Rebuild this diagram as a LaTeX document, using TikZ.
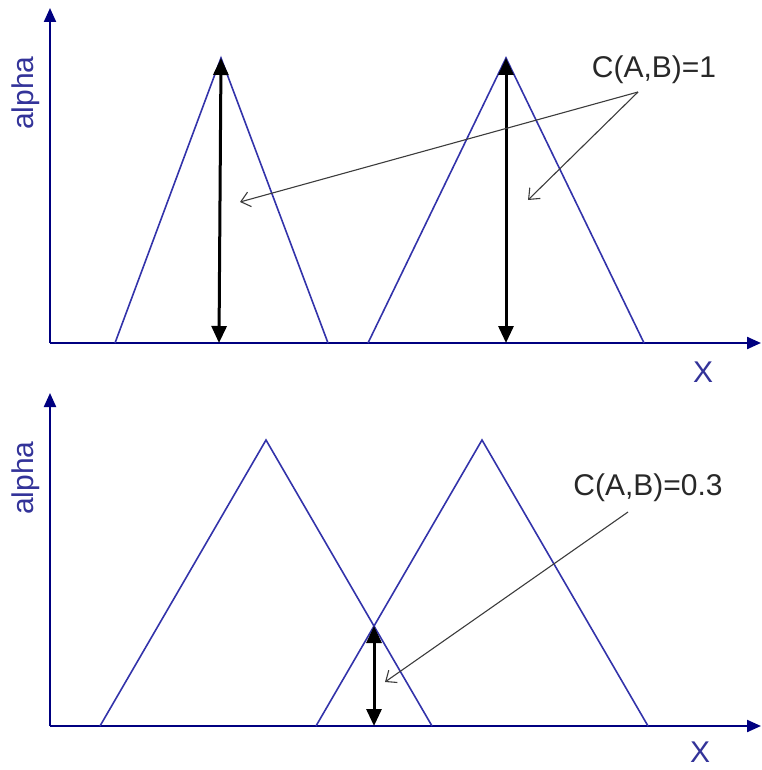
\documentclass[tikz,border=0pt]{standalone}
\usepackage{fontspec}
\setmainfont{Liberation Sans}
\usetikzlibrary{arrows.meta}
\definecolor{axiscol}{RGB}{0,0,128}
\definecolor{tricol}{RGB}{51,51,170}
\definecolor{axlabel}{RGB}{51,51,153}
\definecolor{txtcol}{RGB}{40,40,40}
\definecolor{ptrcol}{RGB}{60,60,60}
\tikzset{
  axisline/.style={draw=axiscol, line width=2.2pt, -{Triangle[length=14pt,width=12pt]}},
  triline/.style={draw=tricol, line width=1.6pt, line join=miter},
  dblarrow/.style={draw=black, line width=3pt, {Triangle[length=17pt,width=15pt]}-{Triangle[length=17pt,width=15pt]}},
  ptr/.style={draw=ptrcol, line width=1.1pt, -{Straight Barb[length=9pt,width=15pt]}},
  axtext/.style={text=axlabel, font=\fontsize{30}{31}\selectfont, inner sep=0pt},
  ctext/.style={text=txtcol, font=\fontsize{30}{31}\selectfont, inner sep=0pt},
}
\begin{document}
\begin{tikzpicture}[x=1pt,y=-1pt]
\useasboundingbox (0,0) rectangle (761,770);
% ---------- top panel ----------
\coordinate (o1) at (50,343);
\coordinate (y1) at (50,8);
\coordinate (x1) at (761,343);
\draw[axisline] (o1) -- (y1);
\draw[axisline] (o1) -- (x1);
\node[axtext, rotate=90] (alpha1) at (26,93) {alpha};
\node[axtext] (X1) at (703,372) {X};
\coordinate (a1) at (115,343);
\coordinate (b1) at (221,58);
\coordinate (c1) at (328,343);
\coordinate (a2) at (368,343);
\coordinate (b2) at (506,58);
\coordinate (c2) at (644,343);
\draw[triline] (a1) -- (b1) -- (c1);
\draw[triline] (a2) -- (b2) -- (c2);
\coordinate (d1) at (219,343);
\coordinate (d2) at (506,343);
\draw[dblarrow] (b1) -- (d1);
\draw[dblarrow] (b2) -- (d2);
\node[ctext] (lab1) at (654,70) {C(A,B)=1};
\coordinate (p1) at (638,92);
\coordinate (t1) at (240,202);
\coordinate (t2) at (528,200);
\draw[ptr] (p1) -- (t1);
\draw[ptr] (p1) -- (t2);
% ---------- bottom panel ----------
\coordinate (o2) at (50,726);
\coordinate (y2) at (50,393);
\coordinate (x2) at (761,726);
\draw[axisline] (o2) -- (y2);
\draw[axisline] (o2) -- (x2);
\node[axtext, rotate=90] (alpha2) at (26,478) {alpha};
\node[axtext] (X2) at (700,752) {X};
\coordinate (e1) at (100,726);
\coordinate (f1) at (266,440);
\coordinate (g1) at (432,726);
\coordinate (e2) at (316,726);
\coordinate (f2) at (482,440);
\coordinate (g2) at (648,726);
\draw[triline] (e1) -- (f1) -- (g1);
\draw[triline] (e2) -- (f2) -- (g2);
\coordinate (m1) at (374,626);
\coordinate (m2) at (374,726);
\draw[dblarrow] (m1) -- (m2);
\node[ctext] (lab2) at (648,488) {C(A,B)=0.3};
\coordinate (p2) at (628,512);
\coordinate (t3) at (385,682);
\draw[ptr] (p2) -- (t3);
\end{tikzpicture}
\end{document}
